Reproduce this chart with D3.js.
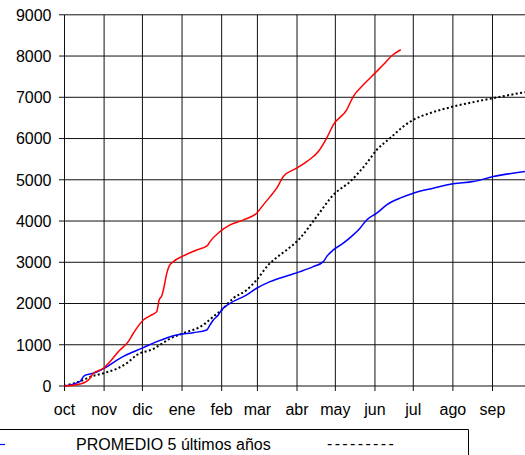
<!DOCTYPE html>
<html><head><meta charset="utf-8">
<script src="https://cdn.jsdelivr.net/npm/d3@7"></script>
<style>body{margin:0;background:#fff}svg{display:block}text{font-family:"Liberation Sans",Arial,sans-serif}</style>
</head><body><svg id="c" width="525" height="455"></svg>
<script>
// month labels and the day (from 1 Oct) at which each month starts
const months = ["oct","nov","dic","ene","feb","mar","abr","may","jun","jul","ago","sep"];
const monthStart = [0,31,61,92,123,151,182,212,243,273,304,335];
const yTicks = [0,1000,2000,3000,4000,5000,6000,7000,8000,9000];

// current season (red): [day, value]
const redDays = [0,12,17,20,22.5,26.5,30.4,35.6,42.1,49.9,53.9,61.7,66.9,72.2,74,76.3,77.9,79.8,81.8,85.2,93,103.5,111.8,113.9,121.7,129.6,140,150.4,155.6,160.9,166.1,171.3,181.7,189.6,198.7,205.2,210.4,220.9,226,233.9,243,249.5,256.1,263.2];
const redVals = [0,49,104,187,308,371,429,590,832,1075,1279,1601,1700,1803,2080,2200,2400,2700,2900,3016,3154,3299,3404,3501,3743,3906,4027,4190,4391,4592,4796,5078,5281,5441,5684,6009,6332,6696,7018,7302,7586,7787,8006,8152];

// blue season
const blueDays = [0,12,14.7,16.8,22.5,31.7,43.4,61.7,72.2,87.8,100.8,111.3,113.9,116.5,120.4,123,129.6,142.6,150.4,160.9,176.5,184.3,194.7,202.6,205.2,210.4,218.2,226,231.3,236.5,244.4,252.2,262.6,273,288.7,304.3,320,335.6,360.4];
const blueVals = [0,104,226,270,308,440,672,930,1075,1237,1293,1359,1480,1601,1722,1844,2006,2208,2370,2530,2693,2773,2894,3016,3137,3299,3462,3663,3826,4027,4190,4391,4554,4675,4796,4901,4956,5078,5199];

// PROMEDIO 5 últimos años (black dotted)
const avgDays = [0,14.7,20,30.4,40.9,48.7,56.5,69.5,74.7,82.6,93,108.6,116.5,123,132.1,142.6,150.4,159.5,168.7,173.9,184.3,197.4,210.4,223.5,236.5,244.4,254.8,265.2,273,286.1,304.3,320,335.6,360.4];
const avgVals = [0,146,220,308,420,551,752,900,995,1150,1278,1480,1681,1844,2128,2329,2572,2936,3178,3299,3583,4107,4634,4956,5402,5726,6009,6291,6453,6616,6776,6883,6980,7125];

const legendLabel = "PROMEDIO 5 últimos años";

const svg = d3.select("#c");
const x = d3.scaleLinear().domain([0,365]).range([64.5, 64.5+365*1.2776]);
const y = d3.scaleLinear().domain([0,9000]).range([386, 14.8]);

// grid
const g = svg.append("g");
g.selectAll("line.h").data(yTicks).join("line")
  .attr("x1", x(0)).attr("x2", 540).attr("y1", d=>y(d)).attr("y2", d=>y(d))
  .attr("stroke", "#111").attr("stroke-width", 1);
g.selectAll("line.v").data(monthStart).join("line")
  .attr("x1", d=>x(d)).attr("x2", d=>x(d)).attr("y1", y(9000)).attr("y2", y(0)+5)
  .attr("stroke", "#111").attr("stroke-width", 1);
// y ticks
g.selectAll("line.yt").data(yTicks).join("line")
  .attr("x1", x(0)-5.5).attr("x2", x(0)).attr("y1", d=>y(d)).attr("y2", d=>y(d))
  .attr("stroke", "#111");
g.selectAll("text.yl").data(yTicks).join("text")
  .attr("x", 51.5).attr("y", d=>y(d)).attr("dy", "0.36em")
  .attr("text-anchor", "end").attr("font-size", 16).attr("fill", "#000")
  .text(d=>d);
g.selectAll("text.xl").data(months).join("text")
  .attr("x", (d,i)=>x(monthStart[i])).attr("y", 415)
  .attr("text-anchor", "middle").attr("font-size", 16).attr("fill", "#000")
  .text(d=>d);

const line = d3.line().x(d=>x(d[0])).y(d=>y(d[1])).curve(d3.curveMonotoneX);
const zip = (a,b)=>a.map((d,i)=>[d,b[i]]);

svg.append("path").datum(zip(avgDays, avgVals)).attr("d", line)
  .attr("fill","none").attr("stroke","#000").attr("stroke-width",2).attr("stroke-dasharray","2,2.4");
svg.append("path").datum(zip(blueDays, blueVals)).attr("d", line)
  .attr("fill","none").attr("stroke","#0000ff").attr("stroke-width",1.5);
svg.append("path").datum(zip(redDays, redVals)).attr("d", line)
  .attr("fill","none").attr("stroke","#ff0000").attr("stroke-width",1.5);

// legend
svg.append("path").attr("d","M0,429.5H468.5V456").attr("fill","none").attr("stroke","#000").attr("stroke-width",1);
svg.append("line").attr("x1",0).attr("x2",5).attr("y1",444.5).attr("y2",444.5).attr("stroke","#0000ff").attr("stroke-width",1.2);
svg.append("text").attr("x",76).attr("y",450).attr("font-size",16).attr("fill","#000").text(legendLabel);
svg.append("text").attr("x",327).attr("y",449).attr("font-size",16).attr("fill","#000")
  .attr("letter-spacing","2.35px").text("---------");
</script></body></html>
